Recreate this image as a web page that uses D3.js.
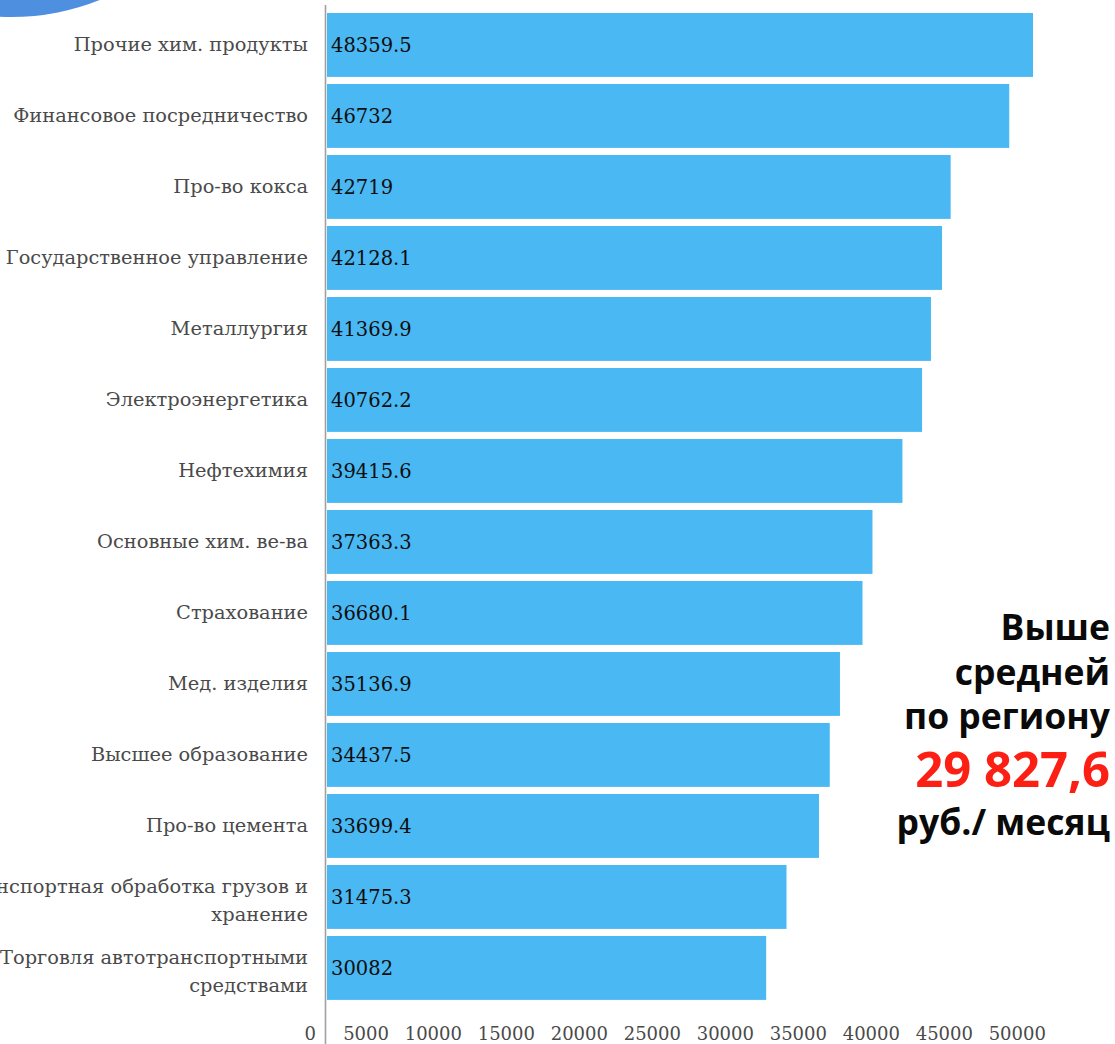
<!DOCTYPE html>
<html>
<head>
<meta charset="utf-8">
<script src="https://cdn.jsdelivr.net/npm/d3@7"></script>
<style>
  html, body { margin: 0; padding: 0; background: #ffffff; overflow: hidden; }
  svg { display: block; }
</style>
</head>
<body>
<svg id="chart" width="1115" height="1044"></svg>
<script>
const categories = [
  "Прочие хим. продукты",
  "Финансовое посредничество",
  "Про-во кокса",
  "Государственное управление",
  "Металлургия",
  "Электроэнергетика",
  "Нефтехимия",
  "Основные хим. ве-ва",
  "Страхование",
  "Мед. изделия",
  "Высшее образование",
  "Про-во цемента",
  "Транспортная обработка грузов и\nхранение",
  "Торговля автотранспортными\nсредствами"
];
const values = [48359.5, 46732, 42719, 42128.1, 41369.9, 40762.2, 39415.6,
                37363.3, 36680.1, 35136.9, 34437.5, 33699.4, 31475.3, 30082];
const valueLabels = ["48359.5", "46732", "42719", "42128.1", "41369.9", "40762.2", "39415.6",
                     "37363.3", "36680.1", "35136.9", "34437.5", "33699.4", "31475.3", "30082"];
const tickValues = [0, 5000, 10000, 15000, 20000, 25000, 30000, 35000, 40000, 45000, 50000];
const noteLines = ["Выше", "средней", "по региону", "29 827,6", "руб./ месяц"];
const noteHighlight = [false, false, false, true, false];

const svg = d3.select("#chart");

// decorative blue shape in the top-left corner
svg.append("circle")
  .attr("cx", 11).attr("cy", -223).attr("r", 240)
  .attr("fill", "#4f8fdf");

const x = d3.scaleLinear().domain([0, 50000]).range([327, 327 + 50000 * 0.014599]);
const y = d3.scaleBand().domain(d3.range(categories.length))
  .range([9.45, 1003.45]).paddingInner(0.1).paddingOuter(0.05);

// bars
svg.append("g").selectAll("rect")
  .data(values)
  .join("rect")
  .attr("x", x(0))
  .attr("y", (d, i) => y(i))
  .attr("width", d => x(d) - x(0))
  .attr("height", y.bandwidth())
  .attr("fill", "#4ab8f3");

// axis line
svg.append("line")
  .attr("x1", 325.5).attr("x2", 325.5)
  .attr("y1", 5).attr("y2", 1044)
  .attr("stroke", "#a0a0a0").attr("stroke-width", 1.6);

const serif = "'DejaVu Serif', serif";

// value labels inside bars
svg.append("g").selectAll("text")
  .data(valueLabels)
  .join("text")
  .attr("x", x(0) + 4)
  .attr("y", (d, i) => y(i) + y.bandwidth() / 2 + 7)
  .attr("font-family", serif)
  .attr("font-size", 19.5)
  .attr("fill", "#0e0e0e")
  .text(d => d);

// category labels
const cat = svg.append("g").selectAll("text")
  .data(categories)
  .join("text")
  .attr("text-anchor", "end")
  .attr("font-family", serif)
  .attr("font-size", 19.4)
  .attr("fill", "#4a4a4a");
cat.each(function(d, i) {
  const lines = d.split("\n");
  const cy = y(i) + y.bandwidth() / 2;
  const t = d3.select(this);
  lines.forEach((ln, k) => {
    const base = lines.length === 1 ? cy + 6.5 : cy - 4 + k * 28;
    t.append("tspan").attr("x", 308).attr("y", base).text(ln);
  });
});

// tick labels
svg.append("g").selectAll("text")
  .data(tickValues)
  .join("text")
  .attr("x", d => x(d) - 11)
  .attr("y", 1040)
  .attr("text-anchor", "end")
  .attr("font-family", serif)
  .attr("font-size", 18)
  .attr("fill", "#4a4a4a")
  .text(d => d3.format("d")(d));

// annotation
const noteY = [640, 685, 729, 787, 835];
svg.append("g").selectAll("text")
  .data(noteLines)
  .join("text")
  .attr("x", 1110)
  .attr("y", (d, i) => noteY[i])
  .attr("text-anchor", "end")
  .attr("font-family", "'Open Sans', sans-serif")
  .attr("font-weight", 700)
  .attr("font-size", (d, i) => noteHighlight[i] ? 49 : 35.5)
  .attr("fill", (d, i) => noteHighlight[i] ? "#fb1f14" : "#0a0a0a")
  .text(d => d);
</script>
</body>
</html>
